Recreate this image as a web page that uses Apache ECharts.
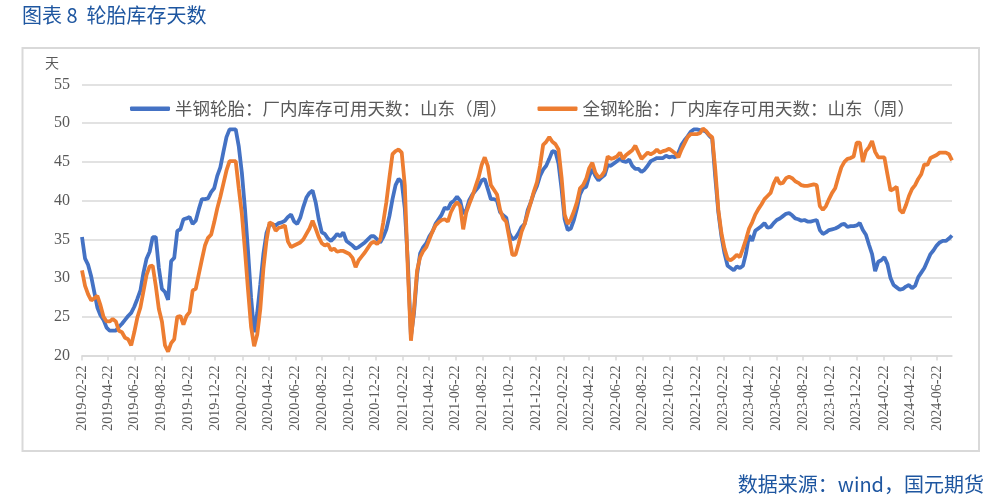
<!DOCTYPE html>
<html>
<head>
<meta charset="utf-8">
<script src="https://cdn.jsdelivr.net/npm/echarts@6/dist/echarts.min.js"></script>
<style>
html,body{margin:0;padding:0;background:#fff;}
#chart{width:1002px;height:502px;}
</style>
</head>
<body>
<div id="chart"></div>
<script>
// ---- data ----
const seriesNames = ['半钢轮胎：厂内库存可用天数：山东（周）', '全钢轮胎：厂内库存可用天数：山东（周）'];
const firstWeek = '2019-02-22';
const lastDay = '2024-07-26';
const yTicks = [20, 25, 30, 35, 40, 45, 50, 55];

const semiSteel = [
35.3,32.5,31.7,30.2,28.2,26.2,25.2,24.6,23.6,23.2,
23.2,23.2,23.7,24.1,24.6,25.1,25.5,26.3,27.3,28.4,
30.7,32.5,33.4,35.3,35.3,31.3,28.6,28.2,27.2,32.2,
32.6,36.1,36.3,37.6,37.7,37.9,37.0,37.4,38.9,40.2,
40.2,40.3,41.1,41.6,43.2,44.3,46.3,48.2,49.2,49.2,
49.2,47.0,43.6,39.0,33.5,27.5,23.0,25.5,29.2,33.1,
35.8,36.9,36.9,36.8,37.1,37.2,37.4,37.9,38.2,37.3,
37.0,37.8,39.2,40.4,41.0,41.3,39.8,37.6,35.9,35.7,
35.1,34.8,35.2,35.7,35.4,35.9,34.8,34.5,34.2,33.8,
34.0,34.3,34.6,35.0,35.4,35.4,35.0,34.6,35.3,36.3,
38.0,40.2,42.0,42.8,42.4,39.0,32.0,22.5,25.5,30.5,
33.2,34.0,34.5,35.4,36.0,37.0,37.6,38.2,39.1,38.9,
39.7,40.0,40.5,40.0,38.3,38.8,40.1,40.8,41.3,41.8,
42.6,42.8,41.5,40.2,40.2,40.0,38.5,38.1,37.8,35.8,
35.0,35.2,35.8,36.6,37.0,38.8,39.8,41.0,41.9,43.2,
44.0,44.5,45.4,46.4,46.3,44.8,41.5,37.6,36.2,36.4,
37.5,39.0,40.8,41.6,41.8,43.2,44.1,43.2,42.6,43.0,
43.3,44.6,44.5,44.8,45.1,45.4,45.1,45.0,45.3,44.5,
44.1,44.1,43.7,44.0,44.5,45.1,45.3,45.5,45.5,45.5,
45.8,45.6,45.7,45.6,46.2,47.2,47.8,48.3,48.9,49.2,
49.2,49.1,49.1,48.9,48.4,48.0,43.0,38.5,35.4,33.2,
31.6,31.3,31.0,31.5,31.3,31.6,33.2,35.5,34.8,36.1,
36.4,36.7,37.1,36.5,36.6,37.1,37.5,37.7,38.0,38.3,
38.4,38.1,37.7,37.6,37.4,37.5,37.3,37.3,37.4,37.5,
36.2,35.7,35.9,36.2,36.3,36.4,36.6,36.9,37.0,36.6,
36.7,36.7,36.8,37.1,36.2,35.6,34.3,33.1,30.9,32.1,
32.3,32.7,31.8,30.0,29.1,28.8,28.5,28.6,28.9,29.1,
28.7,29.0,30.1,30.7,31.3,32.2,33.1,33.6,34.2,34.6,
34.8,34.8,35.1,35.5
];

const allSteel = [
31.0,29.0,27.9,27.1,27.4,27.7,26.5,25.0,24.4,24.4,
24.7,24.4,23.2,23.0,22.3,22.1,21.3,23.0,24.9,26.2,
28.3,30.4,31.5,31.6,29.0,26.0,24.4,21.3,20.5,21.6,
22.1,25.0,25.1,24.0,25.1,25.6,28.4,28.6,30.5,32.4,
34.2,35.2,35.6,37.2,39.0,40.5,42.2,43.9,45.1,45.1,
45.1,41.6,38.3,33.6,28.5,23.7,21.2,22.7,26.0,31.2,
34.8,37.2,37.0,36.1,36.5,36.6,36.8,34.7,34.0,34.2,
34.4,34.6,35.0,35.7,36.4,37.4,36.4,35.3,34.5,34.2,
34.4,33.6,33.8,33.4,33.5,33.5,33.3,33.1,32.6,31.4,
32.3,32.8,33.3,33.9,34.5,34.7,34.4,34.9,37.2,39.8,
43.0,46.0,46.4,46.6,46.2,42.0,31.0,21.9,26.0,31.0,
32.7,33.5,34.0,35.0,36.0,36.8,37.2,37.5,37.6,37.3,
38.5,39.3,39.8,39.3,36.3,38.5,39.6,40.6,41.8,43.0,
44.6,45.6,44.5,42.0,41.4,40.8,38.8,37.7,37.3,35.2,
33.0,33.0,34.4,36.0,37.0,38.4,39.8,41.2,42.4,44.5,
47.2,47.6,48.2,47.6,47.3,46.6,43.0,38.2,37.0,37.6,
38.6,39.8,41.6,42.0,42.8,44.2,44.9,43.6,43.0,43.2,
43.8,45.7,45.4,45.5,45.7,46.2,45.4,45.9,46.2,46.5,
47.1,46.2,45.4,45.8,46.2,46.0,46.2,46.6,46.2,46.4,
46.5,46.7,46.4,46.1,45.6,46.6,47.4,48.2,48.6,48.6,
48.6,48.7,49.3,49.0,48.5,48.2,44.0,38.8,35.8,33.8,
32.5,32.3,32.6,33.0,32.7,33.8,35.0,36.4,37.2,38.2,
38.9,39.5,40.2,40.6,41.0,42.2,43.0,42.2,42.3,42.9,
43.1,42.9,42.5,42.3,42.0,41.9,41.9,42.0,42.1,42.0,
39.3,38.8,39.3,40.2,41.0,41.6,43.0,44.3,45.0,45.4,
45.5,45.7,47.5,47.5,45.0,46.4,46.9,47.7,46.3,45.6,
45.6,45.6,43.4,41.3,41.5,41.8,38.8,38.4,39.4,40.6,
41.5,42.0,42.8,43.4,44.7,44.6,45.5,45.7,45.9,46.2,
46.2,46.2,46.0,45.2
];

// ---- build categories (daily) and weekly dates ----
const DAY = 86400000;
function fmt(t){ return new Date(t).toISOString().slice(0,10); }
const t0 = Date.parse(firstWeek + 'T00:00:00Z');
const t1 = Date.parse(lastDay + 'T00:00:00Z');
const dayCats = [];
for (let t = t0; t <= t1; t += DAY) dayCats.push(fmt(t));
const weekDates = semiSteel.map((_, i) => fmt(t0 + i * 7 * DAY));

function isLabelDay(idx, val){
  return val.slice(8) === '22' && parseInt(val.slice(5,7), 10) % 2 === 0;
}

const serif = 'Times New Roman';
const chart = echarts.init(document.getElementById('chart'), null, {renderer:'canvas'});
const grey = '#595959';
chart.setOption({
  animation: false,
  backgroundColor: '#ffffff',
  grid: { left: 82, right: 50, top: 84.5, bottom: 146.5, containLabel: false },
  legend: {
    left: 125, top: 95, itemGap: 30, itemWidth: 40, itemHeight: 4.5,
    icon: 'roundRect',
    textStyle: { fontSize: 17.5, color: grey, fontFamily: 'Noto Sans CJK SC' },
    data: seriesNames
  },
  xAxis: {
    type: 'category',
    data: dayCats,
    boundaryGap: false,
    axisLine: { lineStyle: { color: '#d9d9d9', width: 1.5 } },
    axisTick: { interval: isLabelDay, length: 5, lineStyle: { color: '#d9d9d9', width: 1.5 } },
    axisLabel: {
      interval: isLabelDay, rotate: 90, margin: 10,
      color: grey, fontSize: 14, fontFamily: serif
    },
    splitLine: { show: false }
  },
  yAxis: {
    type: 'value', min: yTicks[0], max: yTicks[yTicks.length-1], interval: 5,
    axisLine: { show: false }, axisTick: { show: false },
    axisLabel: { color: grey, fontSize: 16, fontFamily: serif, margin: 12 },
    splitLine: { lineStyle: { color: '#d9d9d9', width: 1.5 } }
  },
  series: [
    { name: seriesNames[0], type: 'line', symbol: 'none', showSymbol: false,
      data: weekDates.map((d, i) => [d, semiSteel[i]]),
      lineStyle: { color: '#4472C4', width: 3.8 }, itemStyle: { color: '#4472C4' } },
    { name: seriesNames[1], type: 'line', symbol: 'none', showSymbol: false,
      data: weekDates.map((d, i) => [d, allSteel[i]]),
      lineStyle: { color: '#ED7D31', width: 3.8 }, itemStyle: { color: '#ED7D31' } }
  ],
  graphic: [
    { type: 'rect', shape: { x: 22.5, y: 48, width: 956.5, height: 403 }, silent: true, z: -1,
      style: { fill: 'none', stroke: '#d9d9d9', lineWidth: 2 } },
    { type: 'text', left: 22, top: 5,
      style: { text: '图表 8  轮胎库存天数', fill: '#1E56A0', fontSize: 20, fontFamily: 'Noto Sans CJK SC' } },
    { type: 'text', right: 18, top: 474,
      style: { text: '数据来源：wind，国元期货', fill: '#1E56A0', fontSize: 20, fontFamily: 'Noto Sans CJK SC' } },
    { type: 'text', left: 45, top: 56,
      style: { text: '天', fill: grey, fontSize: 14, fontFamily: 'Noto Sans CJK SC' } }
  ]
});
</script>
</body>
</html>
